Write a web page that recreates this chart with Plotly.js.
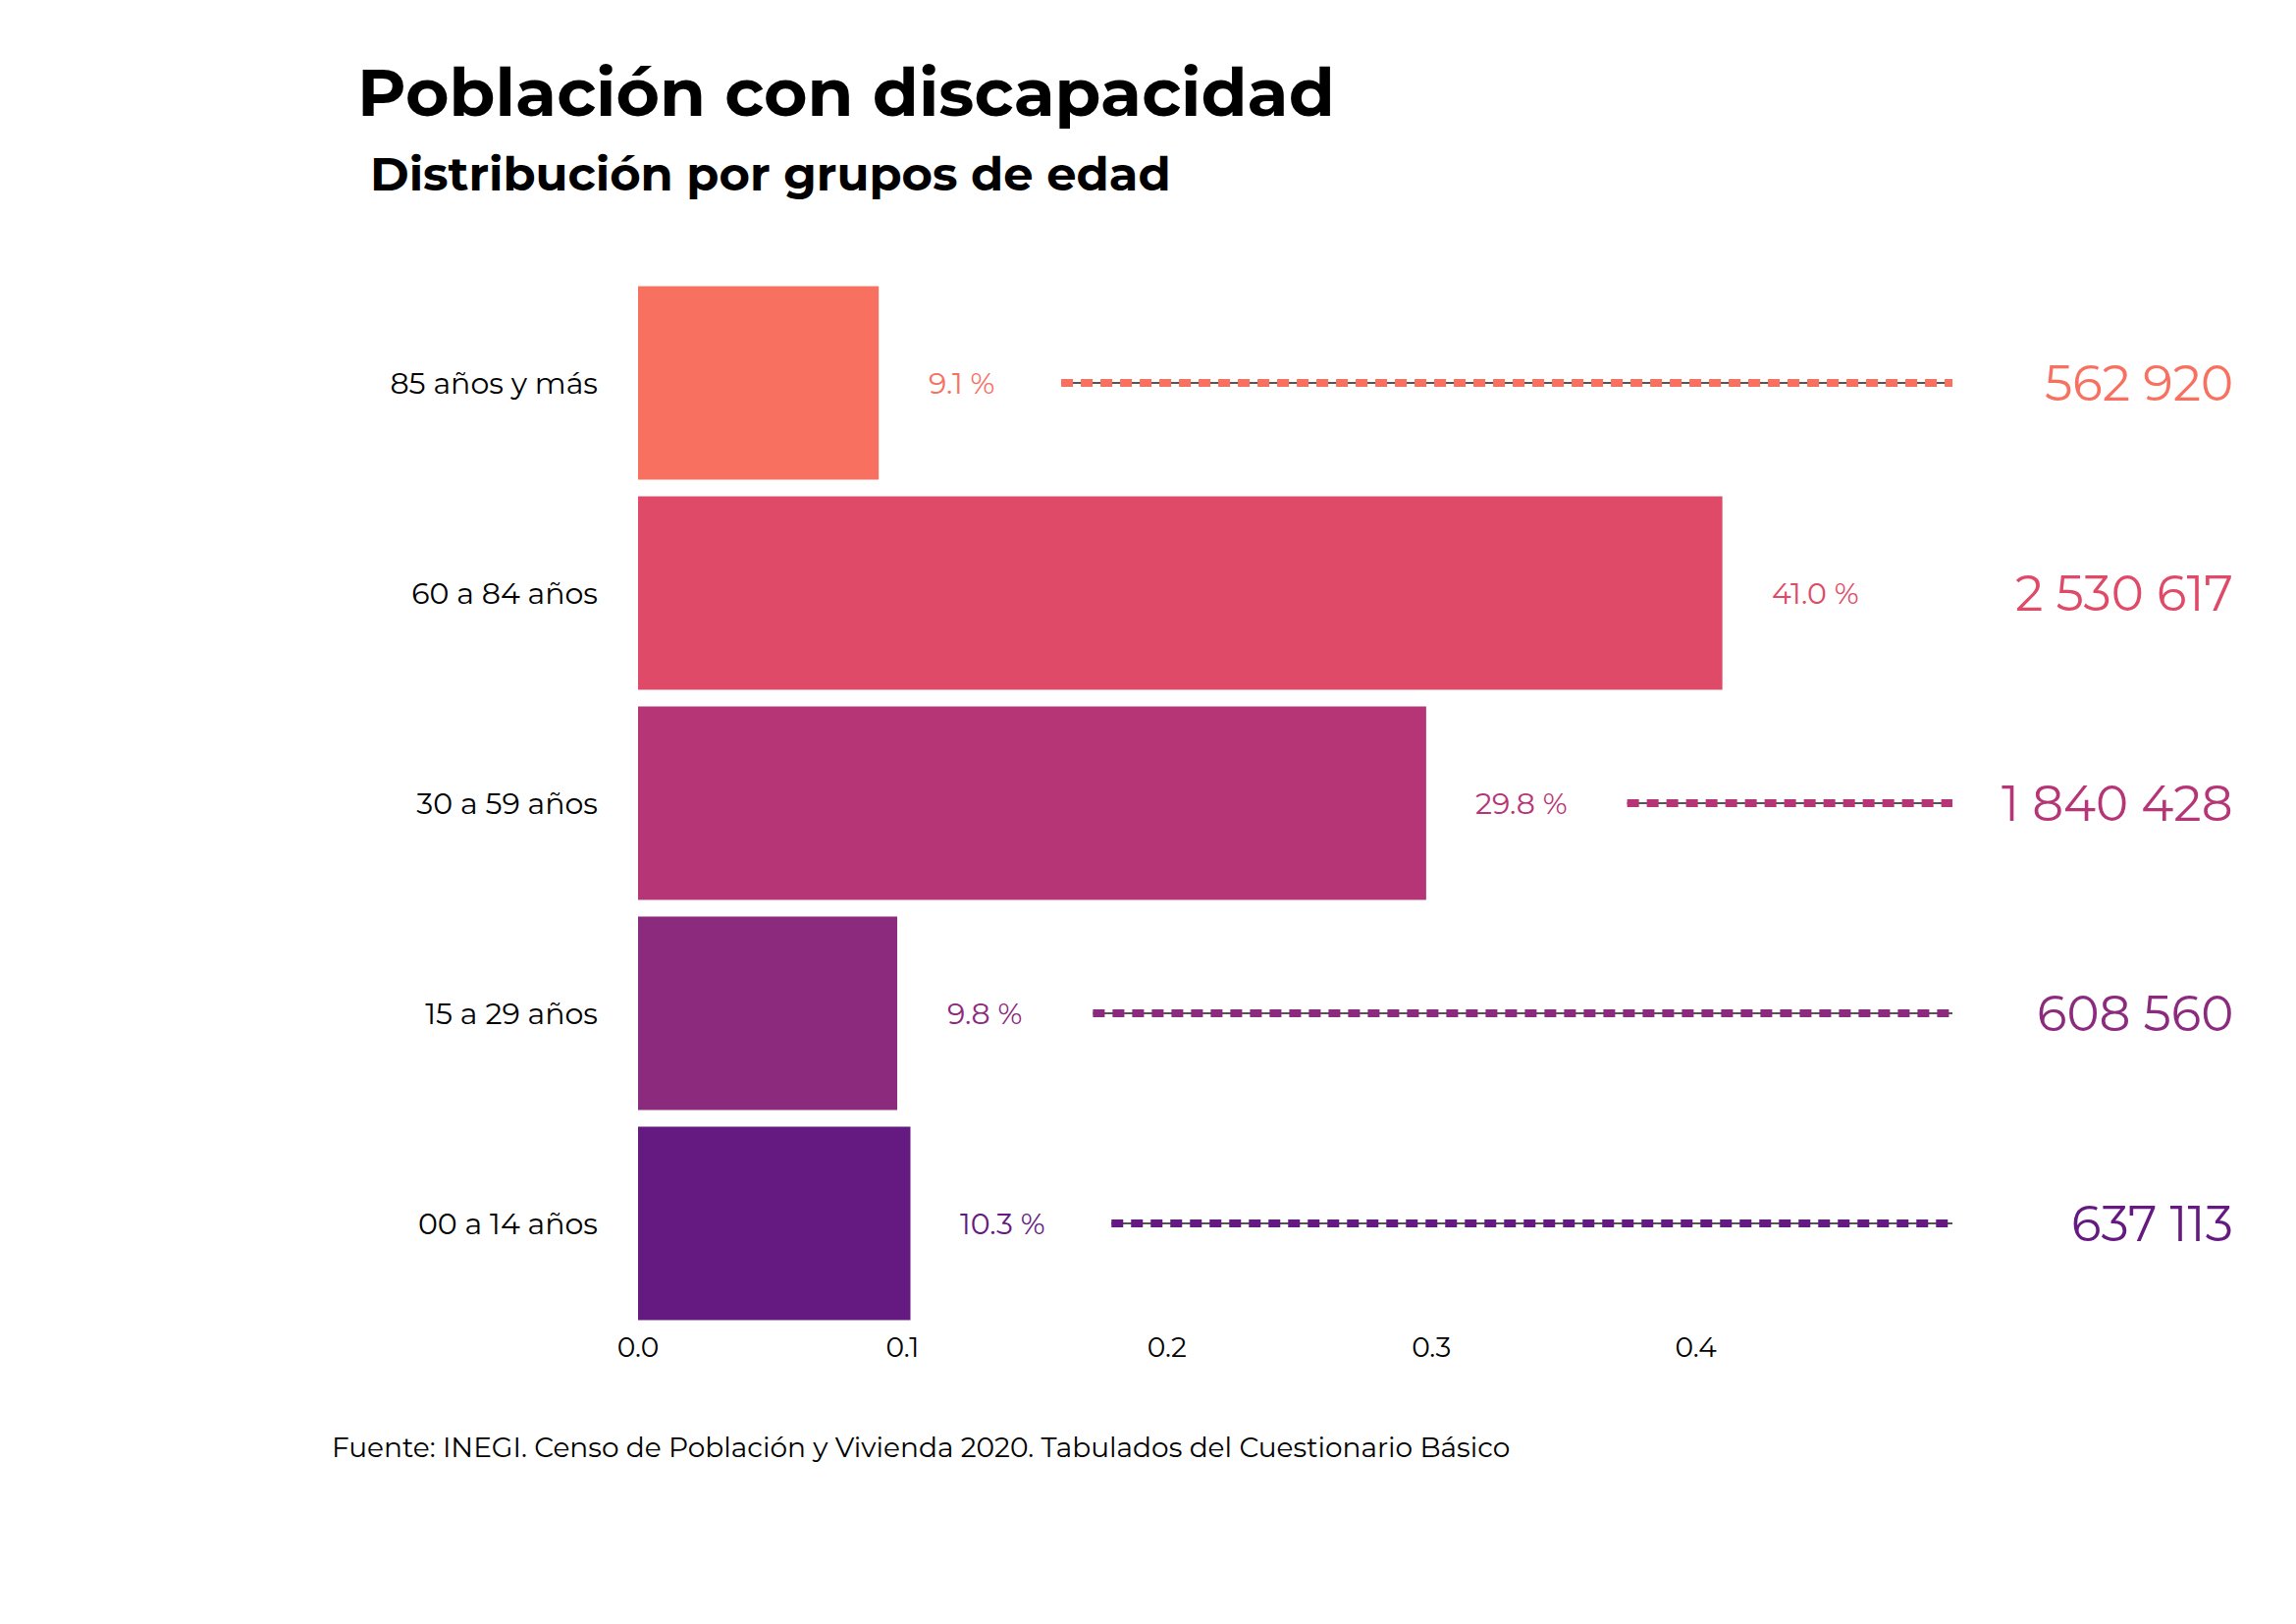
<!DOCTYPE html>
<html>
<head>
<meta charset="utf-8">
<script src="https://cdn.plot.ly/plotly-3.0.1.min.js"></script>
<style>body{margin:0;background:#fff}</style>
</head>
<body>
<div id="graph_area" style="width:2339px;height:1654px"></div>
<script>
// datos de la gráfica
const grupos = ["00 a 14 años", "15 a 29 años", "30 a 59 años", "60 a 84 años", "85 años y más"];
const proporcion = [0.103, 0.098, 0.298, 0.410, 0.091];
const etiquetasPct = ["10.3 %", "9.8 %", "29.8 %", "41.0 %", "9.1 %"];
const poblacion = ["637 113", "608 560", "1 840 428", "2 530 617", "562 920"];
const colores = ["#641A80", "#8C2A7E", "#B63576", "#DE4A67", "#F8705F"];
const inicioLinea = [0.179, 0.172, 0.374, null, 0.16];
const finLinea = 0.497;

const font = "Montserrat, 'Open Sans', 'Noto Sans', sans-serif";

const traces = [{
    type: "bar",
    orientation: "h",
    x: proporcion,
    y: grupos,
    width: 0.92,
    marker: {color: colores},
    hoverinfo: "skip",
}];

grupos.forEach((g, i) => {
    if (inicioLinea[i] === null) return;
    traces.push({
        type: "scatter", mode: "lines",
        x: [inicioLinea[i], finLinea], y: [g, g],
        line: {color: "#555555", width: 2},
        hoverinfo: "skip",
    });
    traces.push({
        type: "scatter", mode: "lines",
        x: [inicioLinea[i], finLinea], y: [g, g],
        line: {color: colores[i], width: 8, dash: "12px,8px"},
        hoverinfo: "skip",
    });
});

const annotations = [];
grupos.forEach((g, i) => {
    annotations.push({
        x: proporcion[i] + 0.018, y: g, xref: "x", yref: "y",
        text: etiquetasPct[i], showarrow: false, xanchor: "left",
        font: {family: font, size: 30, color: colores[i]},
    });
    annotations.push({
        x: 0.604, y: g, xref: "x", yref: "y",
        text: poblacion[i], showarrow: false, xanchor: "right",
        font: {family: font, size: 50, color: colores[i]},
    });
});
annotations.push({
    x: 362, y: 1654 - 93, xref: "paper", yref: "paper",
    text: "<b>Población con discapacidad</b>", showarrow: false,
    xanchor: "left", yanchor: "middle",
    font: {family: font, size: 68, color: "#000"},
});
annotations.push({
    x: 375, y: 1654 - 177, xref: "paper", yref: "paper",
    text: "<b>Distribución por grupos de edad</b>", showarrow: false,
    xanchor: "left", yanchor: "middle",
    font: {family: font, size: 48, color: "#000"},
});
annotations.push({
    x: 336, y: 1654 - 1474, xref: "paper", yref: "paper",
    text: "Fuente: INEGI. Censo de Población y Vivienda 2020. Tabulados del Cuestionario Básico",
    showarrow: false, xanchor: "left", yanchor: "middle",
    font: {family: font, size: 28, color: "#000"},
});

// convertir coordenadas de pixel a papel
const W = 2339, H = 1654, L = 650, R = 59, T = 283, B = 301;
annotations.forEach(a => {
    if (a.xref === "paper") {
        a.x = (a.x - L) / (W - L - R);
        a.y = (a.y - B) / (H - T - B);
    }
});

Plotly.newPlot("graph_area", traces, {
    width: W, height: H,
    margin: {l: L, r: R, t: T, b: B},
    showlegend: false,
    paper_bgcolor: "#fff", plot_bgcolor: "#fff",
    xaxis: {
        range: [0, 0.605], tickvals: [0, 0.1, 0.2, 0.3, 0.4],
        ticktext: ["0.0", "0.1", "0.2", "0.3", "0.4"],
        showgrid: false, zeroline: false, showline: false,
        tickfont: {family: font, size: 28, color: "#000"},
    },
    yaxis: {
        range: [-0.5, 4.5], showgrid: false, zeroline: false,
        ticklen: 0, ticks: "", ticklabelstandoff: 40,
        tickfont: {family: font, size: 30, color: "#000"},
        automargin: false,
    },
    annotations: annotations,
}, {displayModeBar: false});
</script>
</body>
</html>
